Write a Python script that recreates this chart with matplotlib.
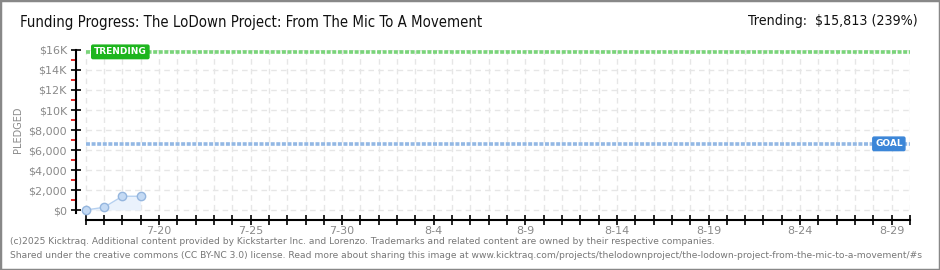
import matplotlib
matplotlib.use("Agg")
import matplotlib.pyplot as plt
import matplotlib.dates as mdates
import pandas as pd
import numpy as np

plt.rcParams["text.parse_math"] = False

# data
dates = pd.to_datetime(["2025-07-16", "2025-07-17", "2025-07-18", "2025-07-19"])
pledged = [0, 270, 1375, 1375]
goal = 6616
trending = 15813
trend_pct = 239
yticks = [0, 2000, 4000, 6000, 8000, 10000, 12000, 14000, 16000]
ytick_labels = ["$0", "$2,000", "$4,000", "$6,000", "$8,000", "$10K", "$12K", "$14K", "$16K"]
start = pd.Timestamp("2025-07-16")
end = pd.Timestamp("2025-08-30")

grey = "#8a8a8a"

fig = plt.figure(figsize=(9.4, 2.7), dpi=100)
fig.patches.append(plt.Rectangle((0, 0), 1, 1, transform=fig.transFigure,
                                 fill=False, edgecolor="#888888", lw=2.5))

# axes: left spine at x=76px, right at 910px, y=0 at 210px, 16K at 50px
ax = fig.add_axes([76 / 940, (270 - 220) / 270, (910 - 76) / 940, 170 / 270])
x0 = mdates.date2num(start)
x1 = mdates.date2num(end)
ax.set_xlim(x0 - 0.53, x1)
ax.set_ylim(-1000, 16000)

# grid, drawn by hand so it stays inside the data area
days = mdates.date2num(pd.date_range(start, end, freq="D"))
ax.vlines(days, 0, 16000, colors="#e6e6e6", lw=1, linestyles=(0, (4, 3)), zorder=0)
ax.hlines(yticks, x0, x1, colors="#e6e6e6", lw=1, linestyles=(0, (4, 3)), zorder=0)

# goal / trending lines
ax.hlines(trending, x0, x1, colors="#7ad47a", lw=2.6, linestyles=(0, (1.1, 0.45)), zorder=2)
ax.hlines(goal, x0, x1, colors="#93b8e4", lw=2.6, linestyles=(0, (1.1, 0.45)), zorder=2)

ax.text(x0 + 0.45, trending, "TRENDING", color="white", fontsize=6.5, fontweight="bold",
        ha="left", va="center", zorder=4,
        bbox=dict(boxstyle="round,pad=0.25,rounding_size=0.15", fc="#1db51d", ec="#1db51d"))
ax.text(x1 - 0.4, goal, "GOAL", color="white", fontsize=6.5, fontweight="bold",
        ha="right", va="center", zorder=4,
        bbox=dict(boxstyle="round,pad=0.25,rounding_size=0.15", fc="#3b86d8", ec="#3b86d8"))

# pledged series
xd = mdates.date2num(dates)
ax.fill_between(xd, 0, pledged, color="#eaf2fc", zorder=1, lw=0)
ax.plot(xd, pledged, color="#b5d0f0", lw=1, zorder=3)
ax.plot(xd, pledged, "o", ms=6, mfc="#c4daf4", mec="#95b6de", mew=1, zorder=3)

# spines
for s in ["top", "right"]:
    ax.spines[s].set_visible(False)
ax.spines["left"].set_bounds(-300, 16000)
ax.spines["bottom"].set_bounds(x0, x1)
ax.spines["left"].set_linewidth(1.5)
ax.spines["bottom"].set_linewidth(1.5)

# y ticks
ax.set_yticks(yticks)
ax.set_yticklabels(ytick_labels)
ax.set_yticks(np.arange(1000, 16000, 2000), minor=True)
ax.tick_params(axis="y", which="major", direction="inout", length=7, width=1.2,
               color="black", labelcolor=grey, labelsize=8, pad=3)
ax.tick_params(axis="y", which="minor", direction="out", length=3.5, width=1.2, color="#e00000")

# x ticks: every day, labels every 5 days
lab_dates = pd.date_range("2025-07-20", "2025-08-29", freq="5D")
ax.set_xticks(mdates.date2num(lab_dates))
ax.set_xticklabels([f"{d.month}-{d.day}" for d in lab_dates])
ax.set_xticks(days, minor=True)
ax.tick_params(axis="x", which="both", direction="inout", length=7, width=1.2,
               color="black", labelcolor=grey, labelsize=8, pad=1)

ax.set_ylabel("PLEDGED", color=grey, fontsize=7)
ax.yaxis.set_label_coords((23 - 76) / 834, 0.53)

fig.text(20 / 940, 1 - 23 / 270, "Funding Progress: The LoDown Project: From The Mic To A Movement",
         fontsize=10.7, color="#111111", ha="left", va="center", family="DejaVu Sans",
         fontstretch="condensed")
fig.text(918 / 940, 1 - 21 / 270, f"Trending:  ${trending:,} ({trend_pct}%)",
         fontsize=10.2, color="#111111", ha="right", va="center", family="DejaVu Sans",
         fontstretch="condensed")

fig.text(10 / 940, 1 - 242 / 270,
         "(c)2025 Kicktraq. Additional content provided by Kickstarter Inc. and Lorenzo. "
         "Trademarks and related content are owned by their respective companies.",
         fontsize=6.6, color="#777777", ha="left", va="center")
fig.text(10 / 940, 1 - 255 / 270,
         "Shared under the creative commons (CC BY-NC 3.0) license. Read more about sharing this image at "
         "www.kicktraq.com/projects/thelodownproject/the-lodown-project-from-the-mic-to-a-movement/#s",
         fontsize=6.6, color="#777777", ha="left", va="center")

fig.savefig("out.png", dpi=100, facecolor="white")
